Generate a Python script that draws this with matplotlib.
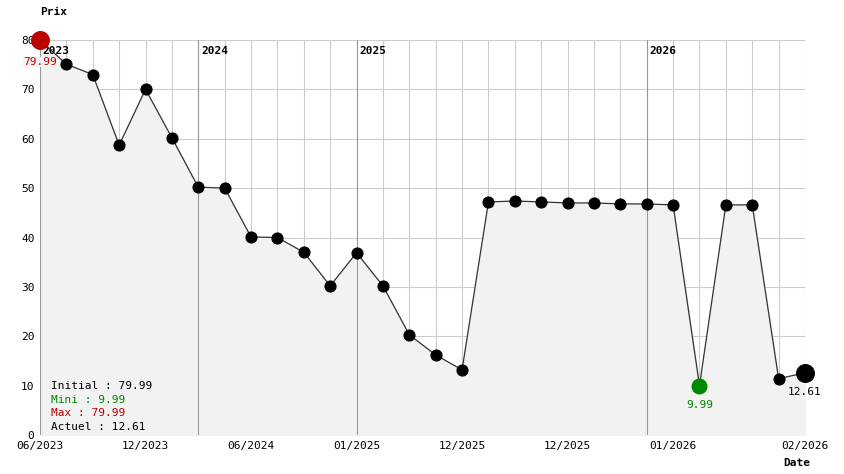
import matplotlib
matplotlib.use('Agg')
import matplotlib.pyplot as plt
import numpy as np

plt.rcParams['font.family'] = ['DejaVu Sans Mono']

prices = [79.99, 75.1, 73.0, 58.7, 70.0, 60.2, 50.2, 50.0, 40.1, 40.0,
          37.0, 30.2, 36.9, 30.2, 20.3, 16.2, 13.2, 47.2, 47.4, 47.2,
          47.0, 47.0, 46.8, 46.8, 46.6, 9.99, 46.6, 46.6, 11.4, 12.61]
tick_pos = [0, 4, 8, 12, 16, 20, 24, 29]
tick_labels = ['06/2023', '12/2023', '06/2024', '01/2025', '12/2025',
               '12/2025', '01/2026', '02/2026']
year_pos = [0, 6, 12, 23]
year_labels = ['2023', '2024', '2025', '2026']

x = np.arange(len(prices))
fig = plt.figure(figsize=(8.44, 4.74), dpi=100)
ax = fig.add_axes([40 / 844, 39 / 474, 765 / 844, 395 / 474])
ax.set_xlim(0, len(prices) - 1)
ax.set_ylim(0, 80)

for xi in x:
    ax.axvline(xi, color='#cccccc', lw=0.8, zorder=0)
for yv in range(10, 81, 10):
    ax.axhline(yv, color='#cccccc', lw=0.8, zorder=0)
for xp, lab in zip(year_pos, year_labels):
    ax.axvline(xp, color='#999999', lw=0.8, zorder=0.5)
    ax.text(xp + 0.1, 77.7, lab, fontsize=8, fontweight='bold', va='center', ha='left', zorder=1)

ax.fill_between(x, 0, prices, color='#f2f2f2', zorder=0.2)
ax.plot(x, prices, color='#333333', lw=0.9, zorder=2)
ax.scatter(x[1:-1], prices[1:-1], s=60, color='black', zorder=3)
imin = int(np.argmin(prices))
ax.scatter([0], [prices[0]], s=160, color='#bb0000', zorder=4, clip_on=False)
ax.scatter([imin], [prices[imin]], s=110, color='#008800', zorder=4)
ax.scatter([x[-1]], [prices[-1]], s=160, color='black', zorder=4, clip_on=False)
ax.text(0, 74.9, f'{prices[0]:.2f}', color='#bb0000', fontsize=8, ha='center',
        bbox=dict(facecolor='#f2f2f2', edgecolor='none', pad=0), zorder=5)
ax.text(imin, prices[imin] - 4.5, f'{prices[imin]:.2f}', color='#008800', fontsize=8, ha='center')
ax.text(x[-1], prices[-1] - 4.5, f'{prices[-1]:.2f}', color='black', fontsize=8, ha='center')

info = [(f'Initial : {prices[0]:.2f}', 'black'), (f'Mini : {min(prices):.2f}', '#008800'),
        (f'Max : {max(prices):.2f}', '#bb0000'), (f'Actuel : {prices[-1]:.2f}', 'black')]
for i, (t, c) in enumerate(info):
    ax.text(0.4, 9.9 - i * 2.75, t, color=c, fontsize=8, va='center')

for s in ax.spines.values():
    s.set_visible(False)
ax.set_xticks(tick_pos)
ax.set_xticklabels(tick_labels, fontsize=8)
ax.set_yticks(range(0, 81, 10))
ax.tick_params(labelsize=8, length=0, pad=4)
fig.text(40 / 844, 1 - 12 / 474, 'Prix', fontsize=8, fontweight='bold', va='center')
fig.text(797 / 844, 1 - 463 / 474, 'Date', fontsize=8, fontweight='bold', va='center', ha='center')
fig.savefig('out.png', dpi=100)
